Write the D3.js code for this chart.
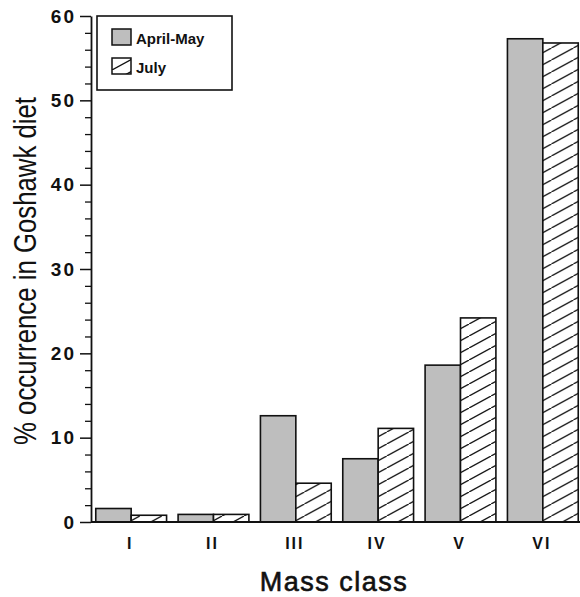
<!DOCTYPE html>
<html>
<head>
<meta charset="utf-8">
<script src="https://cdn.jsdelivr.net/npm/d3@7"></script>
<style>
  body { margin: 0; background: #fff; }
  svg { display: block; font-family: "Liberation Sans", Arial, Helvetica, sans-serif; }
</style>
</head>
<body>
<div id="chart"></div>
<script>
// data
var classes = ["I", "II", "III", "IV", "V", "VI"];
var seriesNames = ["April-May", "July"];
var aprilMay = [1.6, 0.9, 12.6, 7.5, 18.6, 57.3];
var july = [0.8, 0.9, 4.6, 11.1, 24.2, 56.8];
var majorTicks = [0, 10, 20, 30, 40, 50, 60];
var minorTicks = d3.range(0, 61, 2).filter(function(d) { return d % 10 != 0; });

var width = 580, height = 597;
var axisX = 91, y0 = 522, yTop = 16;

var svg = d3.select("#chart")
  .append("svg")
  .attr("width", width)
  .attr("height", height);

svg.append("rect").attr("width", width).attr("height", height).attr("fill", "#fff");

// hatch pattern for July
var defs = svg.append("defs");
var pat = defs.append("pattern")
  .attr("id", "hatch")
  .attr("patternUnits", "userSpaceOnUse")
  .attr("width", 22)
  .attr("height", 12);
pat.append("rect").attr("width", 22).attr("height", 12).attr("fill", "#fff");
pat.append("path")
  .attr("d", "M-11,18 L11,6 M0,12 L22,0 M11,6 L33,-6")
  .attr("stroke", "#111")
  .attr("stroke-width", 1.3);

var fills = ["#bebebe", "url(#hatch)"];

var y = d3.scaleLinear().domain([0, 60]).range([y0, yTop]);

var x = d3.scaleBand()
  .domain(classes)
  .range([90, 584])
  .paddingInner(0.14)
  .paddingOuter(0.07);

var x1 = d3.scaleBand()
  .domain(seriesNames)
  .range([0, x.bandwidth()]);

var rows = classes.map(function(c, i) {
  return {cls: c, values: [
    {name: seriesNames[0], v: aprilMay[i]},
    {name: seriesNames[1], v: july[i]}
  ]};
});

// bars
var groups = svg.append("g").selectAll("g")
  .data(rows)
  .enter().append("g")
  .attr("transform", function(d) { return "translate(" + x(d.cls) + ",0)"; });

groups.selectAll("rect")
  .data(function(d) { return d.values; })
  .enter().append("rect")
  .attr("x", function(d) { return x1(d.name); })
  .attr("y", function(d) { return y(d.v); })
  .attr("width", x1.bandwidth())
  .attr("height", function(d) { return y(0) - y(d.v); })
  .attr("fill", function(d, i) { return fills[i]; })
  .attr("stroke", "#111")
  .attr("stroke-width", 1.6);

// baseline
svg.append("line")
  .attr("x1", axisX).attr("x2", width)
  .attr("y1", y(0)).attr("y2", y(0))
  .attr("stroke", "#111").attr("stroke-width", 1.8);

// y axis - minor ticks
svg.append("g")
  .attr("transform", "translate(" + axisX + ",0)")
  .call(d3.axisLeft(y).tickValues(minorTicks).tickSize(6).tickSizeOuter(0).tickFormat(""))
  .call(function(g) { g.select(".domain").remove(); })
  .selectAll("line").attr("stroke", "#111").attr("stroke-width", 1.3);

// y axis - major ticks
var yAxis = svg.append("g")
  .attr("transform", "translate(" + axisX + ",0)")
  .call(d3.axisLeft(y).tickValues(majorTicks).tickSize(11).tickSizeOuter(0).tickPadding(4));
yAxis.select(".domain").attr("stroke", "#111").attr("stroke-width", 1.8);
yAxis.selectAll("line").attr("stroke", "#111").attr("stroke-width", 1.5);
yAxis.selectAll("text")
  .attr("font-size", 19)
  .attr("font-weight", "bold")
  .attr("letter-spacing", 2)
  .attr("font-family", "'Liberation Sans', Arial, sans-serif")
  .attr("fill", "#111");

// x category labels
svg.append("g").selectAll("text")
  .data(classes)
  .enter().append("text")
  .attr("x", function(d) { return x(d) + x.bandwidth() / 2 - 1; })
  .attr("y", 549)
  .attr("text-anchor", "middle")
  .attr("font-size", 16)
  .attr("font-weight", "bold")
  .attr("letter-spacing", 2)
  .attr("fill", "#111")
  .text(function(d) { return d; });

// axis titles
svg.append("text")
  .attr("x", 334)
  .attr("y", 591)
  .attr("text-anchor", "middle")
  .attr("font-size", 27)
  .attr("letter-spacing", 1.5)
  .attr("fill", "#111")
  .attr("stroke", "#111")
  .attr("stroke-width", 0.6)
  .text("Mass class");

svg.append("text")
  .attr("transform", "translate(36,271) rotate(-90)")
  .attr("text-anchor", "middle")
  .attr("font-family", "'Liberation Sans Narrow', 'Arial Narrow', 'Liberation Sans', sans-serif")
  .attr("font-size", 31)
  .attr("textLength", 348)
  .attr("lengthAdjust", "spacingAndGlyphs")
  .attr("fill", "#111")
  .text("% occurrence in Goshawk diet");

// legend
var legend = svg.append("g");
legend.append("rect")
  .attr("x", 97).attr("y", 16)
  .attr("width", 135).attr("height", 74)
  .attr("fill", "#fff")
  .attr("stroke", "#111").attr("stroke-width", 1.6);

var items = legend.selectAll(".item")
  .data(seriesNames)
  .enter().append("g")
  .attr("transform", function(d, i) { return "translate(112," + (29 + i * 29) + ")"; });

items.append("rect")
  .attr("width", 19).attr("height", 16)
  .attr("fill", function(d, i) { return fills[i]; })
  .attr("stroke", "#111").attr("stroke-width", 1.5);

items.append("text")
  .attr("x", 24).attr("y", 15)
  .attr("font-size", 15)
  .attr("font-weight", "bold")
  .attr("fill", "#111")
  .text(function(d) { return d; });
</script>
</body>
</html>
